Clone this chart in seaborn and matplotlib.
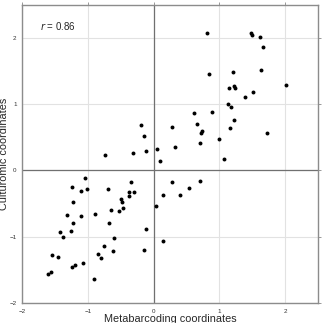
import matplotlib
matplotlib.use("Agg")
import matplotlib.pyplot as plt
import seaborn as sns
import pandas as pd

# coordinates
metabarcoding = [
    -0.19, -0.14, -0.12, -0.31, -0.74, 0.06, 0.10,
    0.82, 1.48, 1.50, 1.62, 1.66, 0.84, 1.21, 1.63, 2.02, 1.15, 1.22, 1.24,
    1.51, 1.39, 1.14, 1.18, 0.61, 0.89, 0.66, 1.23, 0.28, 0.74, 0.72, 1.17,
    1.72, 1.00, 0.71, 0.32, 1.08,
    0.28, 0.70, 0.54, 0.40, 0.14, 0.14,
    -1.04, -1.24, -1.10, -1.01, -0.69, -0.34, -0.37, -0.29, -0.37, -0.50,
    -0.48, -0.47, -0.52, -0.64, -1.23, 0.04, -1.32, -1.10, -0.89, -1.23,
    -0.68, -0.12, -1.43, -1.26, -1.37, -0.60, -0.76, -0.14, -0.61, -1.54,
    -1.45, -0.84, -0.80, -1.08, -1.19, -1.24, -1.56, -1.61, -0.90,
]
culturomic = [
    0.69, 0.52, 0.30, 0.27, 0.24, 0.32, 0.15,
    2.08, 2.08, 2.05, 2.02, 1.87, 1.46, 1.49, 1.51, 1.29, 1.25, 1.27, 1.24,
    1.19, 1.11, 1.00, 0.96, 0.86, 0.88, 0.70, 0.76, 0.66, 0.60, 0.56, 0.64,
    0.57, 0.47, 0.41, 0.35, 0.18,
    -0.18, -0.16, -0.27, -0.37, -0.37, -1.07,
    -0.11, -0.25, -0.31, -0.28, -0.28, -0.17, -0.32, -0.33, -0.39, -0.43,
    -0.48, -0.56, -0.61, -0.59, -0.48, -0.53, -0.67, -0.68, -0.65, -0.80,
    -0.79, -0.89, -0.93, -0.92, -1.01, -1.02, -1.14, -1.20, -1.22, -1.27,
    -1.30, -1.26, -1.32, -1.40, -1.43, -1.46, -1.53, -1.56, -1.64,
]
r_value = "0.86"
ticks = [-2, -1, 0, 1, 2]

df = pd.DataFrame({"x": metabarcoding, "y": culturomic})

sns.set_style("white")
plt.rcParams["font.family"] = ["Liberation Sans", "DejaVu Sans"]

fig = plt.figure(figsize=(3.24, 3.23), dpi=100)
ax = fig.add_axes([0.068, 0.062, 0.913, 0.923])

ax.grid(True, color="#e2e2e2", linewidth=0.8)
ax.axhline(0, color="#707070", linewidth=0.9, zorder=1)
ax.axvline(0, color="#707070", linewidth=0.9, zorder=1)

sns.scatterplot(data=df, x="x", y="y", color="black", s=8, linewidth=0,
                ax=ax, zorder=3)

ax.set_xlim(-2, 2.5)
ax.set_ylim(-2, 2.5)
ax.set_xticks(ticks)
ax.set_yticks(ticks)
ax.tick_params(labelsize=4.5, length=2, width=0.6, color="#888888",
               labelcolor="#333333", pad=2, top=True, right=True,
               direction="out")
for s in ax.spines.values():
    s.set_color("#8c8c8c")
    s.set_linewidth(1.0)

# labels sit right at the figure edge, as in the original
ax.set_xlabel("Metabarcoding coordinates", fontsize=7.8, labelpad=0)
ax.set_ylabel("Culturomic coordinates", fontsize=7.8, labelpad=0.5)
ax.text(0.06, 0.93, "$r$ = " + r_value, transform=ax.transAxes,
        fontsize=7, ha="left", va="center")

fig.savefig("out.png", dpi=100)
